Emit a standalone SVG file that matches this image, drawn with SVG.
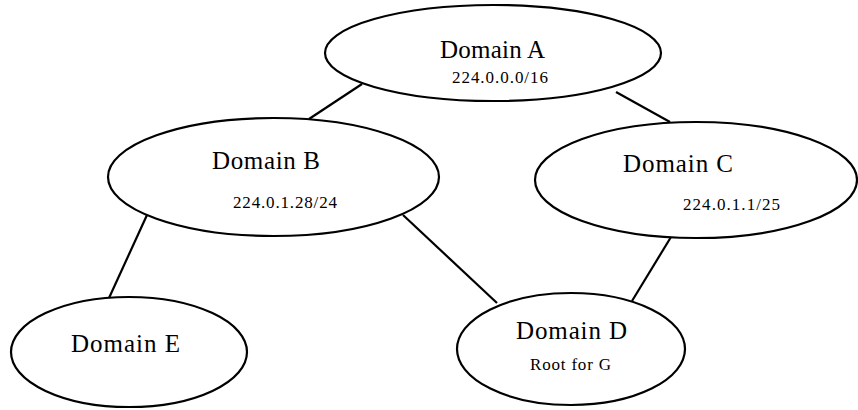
<svg xmlns="http://www.w3.org/2000/svg" width="858" height="410" viewBox="0 0 858 410">
  <style>
    .node ellipse { fill: #ffffff; stroke: #000000; stroke-width: 2.2; }
    .edges line { stroke: #000000; stroke-width: 2.2; }
    .title { font-family: "Liberation Serif", "Times New Roman", serif; font-size: 25px; fill: #000000; }
    .sub { font-family: "Liberation Serif", "Times New Roman", serif; font-size: 17px; fill: #000000; }
  </style>
  <rect x="0" y="0" width="858" height="410" fill="#ffffff"/>

  <!-- links between domains -->
  <g class="edges" id="edges">
    <line x1="362" y1="84" x2="309" y2="119"/>
    <line x1="616" y1="92" x2="670" y2="122"/>
    <line x1="147" y1="215" x2="109" y2="298"/>
    <line x1="403" y1="215" x2="497" y2="303"/>
    <line x1="671" y1="237" x2="632" y2="301"/>
  </g>

  <g class="node" id="domain-a">
    <ellipse cx="493" cy="53" rx="168" ry="48"/>
    <text class="title" x="440" y="58" textLength="105" lengthAdjust="spacing">Domain A</text>
    <text class="sub" x="452" y="83" textLength="96" lengthAdjust="spacing">224.0.0.0/16</text>
  </g>

  <g class="node" id="domain-b">
    <ellipse cx="273.5" cy="177" rx="165.5" ry="59"/>
    <text class="title" x="212" y="169" textLength="108" lengthAdjust="spacing">Domain B</text>
    <text class="sub" x="233" y="208" textLength="104" lengthAdjust="spacing">224.0.1.28/24</text>
  </g>

  <g class="node" id="domain-c">
    <ellipse cx="696" cy="180" rx="161" ry="58"/>
    <text class="title" x="623" y="172" textLength="110" lengthAdjust="spacing">Domain C</text>
    <text class="sub" x="683" y="210" textLength="97" lengthAdjust="spacing">224.0.1.1/25</text>
  </g>

  <g class="node" id="domain-e">
    <ellipse cx="129" cy="352" rx="118" ry="55"/>
    <text class="title" x="71" y="352" textLength="109" lengthAdjust="spacing">Domain E</text>
  </g>

  <g class="node" id="domain-d">
    <ellipse cx="571" cy="349" rx="114" ry="56"/>
    <text class="title" x="516" y="339" textLength="111" lengthAdjust="spacing">Domain D</text>
    <text class="sub" x="530" y="370" textLength="81" lengthAdjust="spacing">Root for G</text>
  </g>
</svg>
